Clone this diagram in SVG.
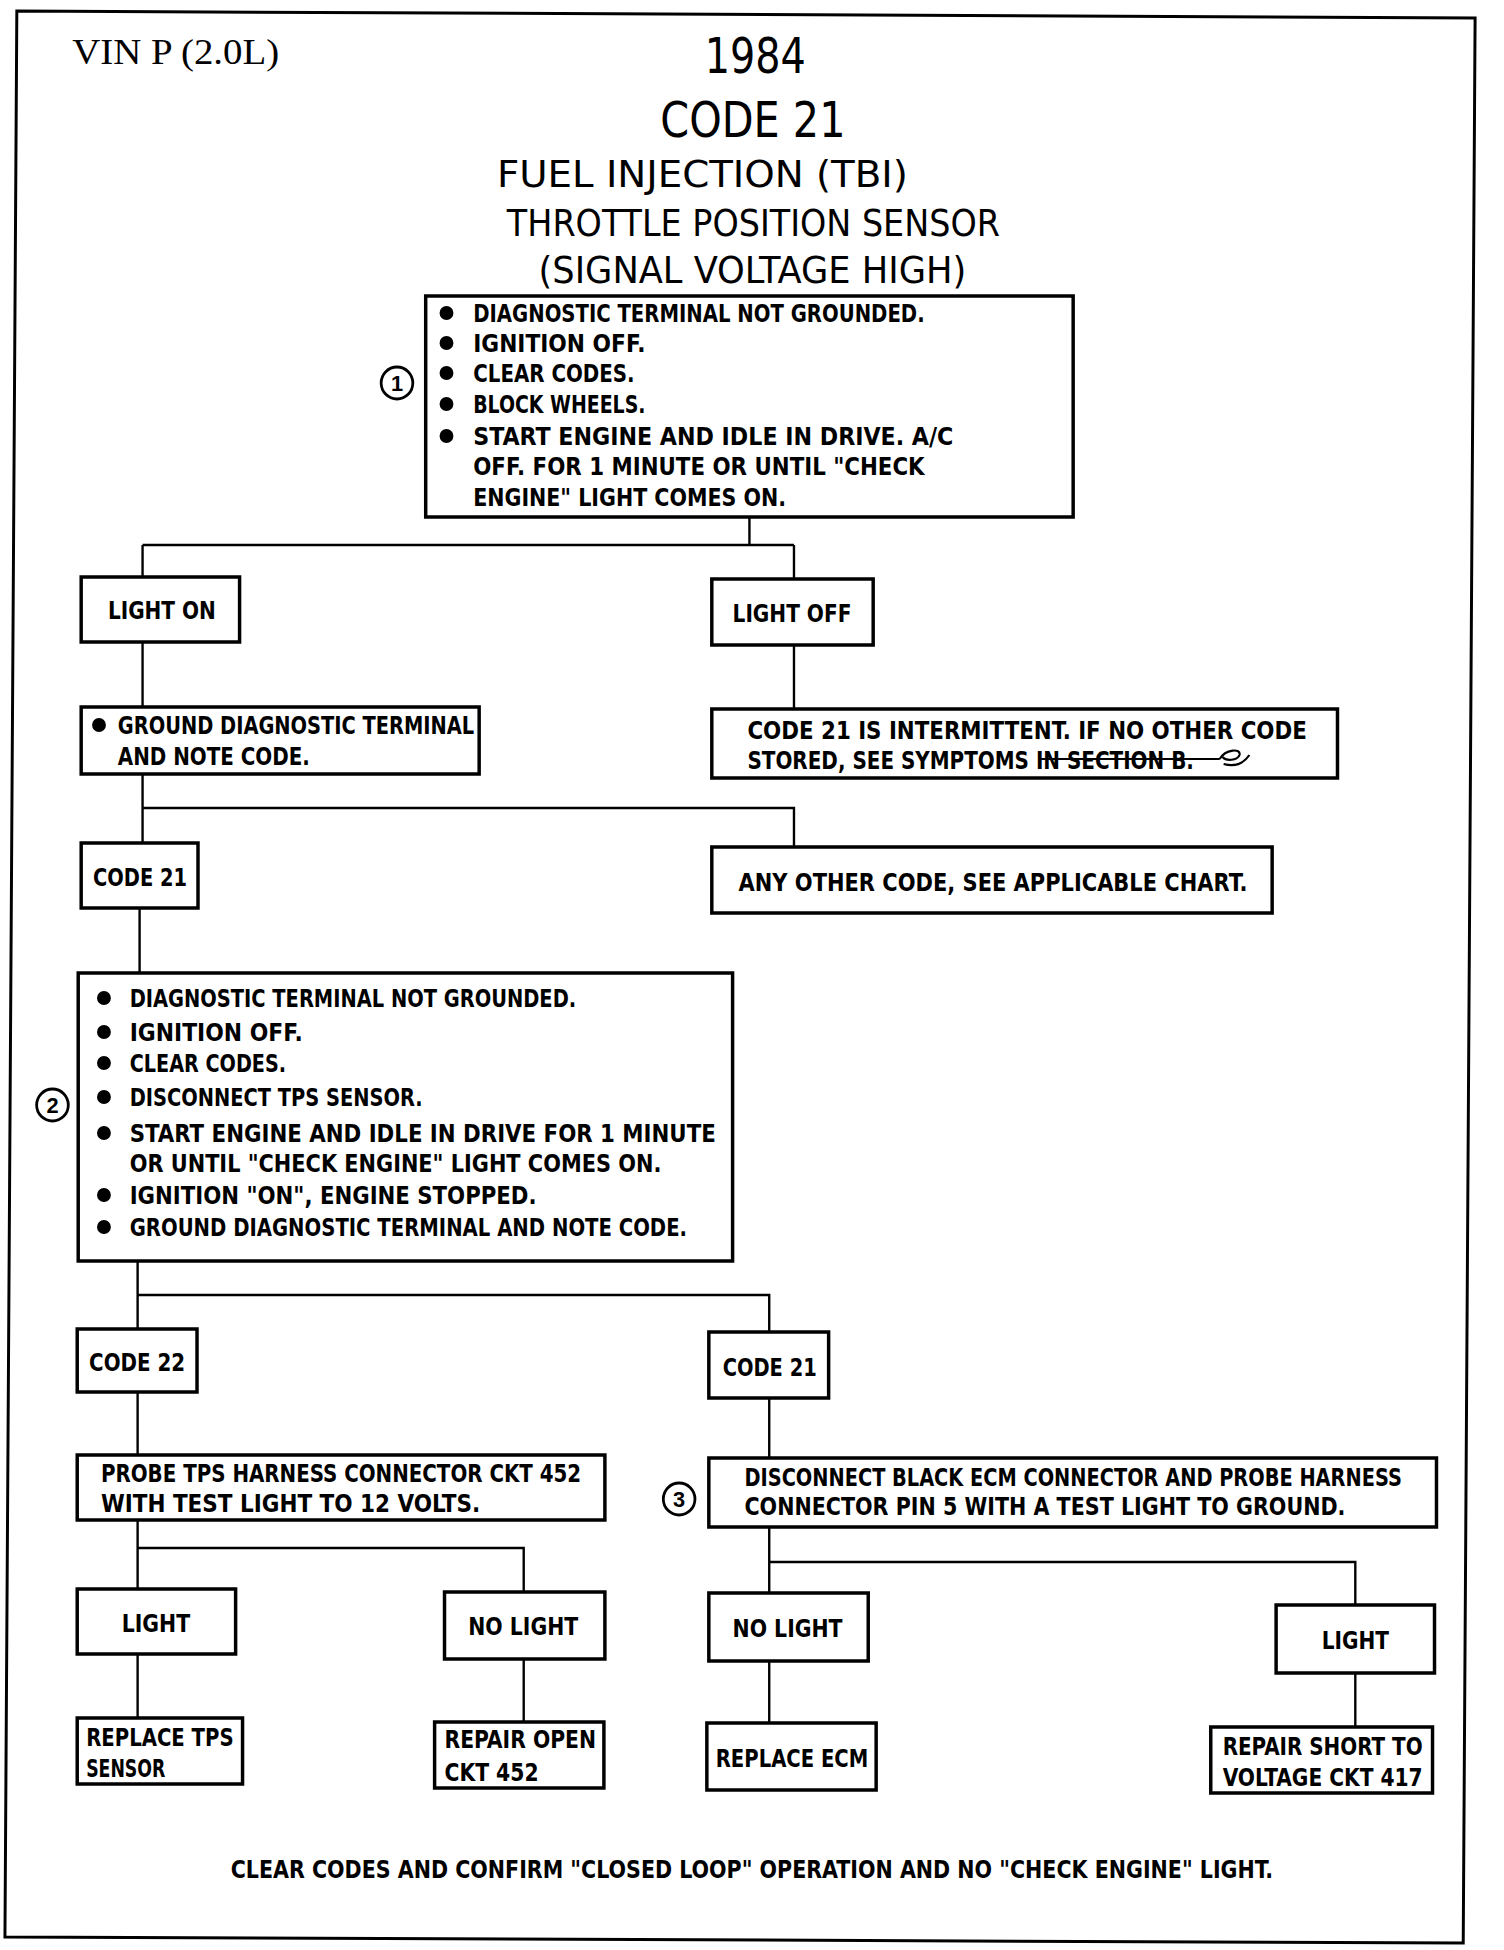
<svg xmlns="http://www.w3.org/2000/svg" width="1504" height="1950" viewBox="0 0 1504 1950">
<style>
.box{fill:#fff;stroke:#000;stroke-width:3.5}
.conn{fill:none;stroke:#000;stroke-width:2.4}
.t{font-family:"Liberation Sans Narrow","DejaVu Sans Condensed","Liberation Sans",Arial,sans-serif;font-size:25px;font-weight:bold;fill:#000}
.h{font-family:"Liberation Sans Narrow","DejaVu Sans Condensed","Liberation Sans",Arial,sans-serif;font-weight:normal;fill:#000}
.serif{font-family:"Liberation Serif","Times New Roman",serif;font-size:35px;fill:#000}
.num{font-family:"Liberation Sans",Arial,sans-serif;font-size:22px;font-weight:bold;fill:#000;text-anchor:middle}
.ring{fill:#fff;stroke:#000;stroke-width:2.8}
</style>
<defs>
<circle id="bul" r="7" fill="#000"/>
</defs>
<rect width="1504" height="1950" fill="#fff"/>
<g transform="matrix(0.99 0 0 1 0 0)">
<polygon points="17,11 1490,18 1478,1943 5,1937" fill="none" stroke="#000" stroke-width="3"/>

<g id="title">
<text class="serif" x="73" y="64" textLength="209" lengthAdjust="spacingAndGlyphs">VIN P (2.0L)</text>
<text class="h" x="712" y="73" font-size="50" textLength="102" lengthAdjust="spacingAndGlyphs">1984</text>
<text class="h" x="667" y="137" font-size="50" textLength="187" lengthAdjust="spacingAndGlyphs">CODE 21</text>
<text class="h" x="502" y="187" font-size="37" textLength="415" lengthAdjust="spacingAndGlyphs">FUEL INJECTION (TBI)</text>
<text class="h" x="512" y="236" font-size="37" textLength="498" lengthAdjust="spacingAndGlyphs">THROTTLE POSITION SENSOR</text>
<text class="h" x="544" y="283" font-size="37" textLength="432" lengthAdjust="spacingAndGlyphs">(SIGNAL VOLTAGE HIGH)</text>
</g>

<g id="connectors">
<path class="conn" d="M757,517 V545 M144,545 H802 M144,545 V577 M802,545 V579"/>
<path class="conn" d="M144,642 V707"/>
<path class="conn" d="M802,645 V709"/>
<path class="conn" d="M144,774 V808 H802 V847 M144,808 V843"/>
<path class="conn" d="M141,908 V973"/>
<path class="conn" d="M139,1261 V1295 H777 V1332 M139,1295 V1329"/>
<path class="conn" d="M139,1392 V1455"/>
<path class="conn" d="M777,1398 V1458"/>
<path class="conn" d="M139,1520 V1548 H529 V1592 M139,1548 V1589"/>
<path class="conn" d="M777,1527 V1593 M777,1562 H1369 V1605"/>
<path class="conn" d="M139,1654 V1718"/>
<path class="conn" d="M529,1659 V1722"/>
<path class="conn" d="M777,1661 V1723"/>
<path class="conn" d="M1369,1673 V1727"/>
</g>

<g id="step1">
<rect class="box" x="430" y="296" width="654" height="221"/>
<use href="#bul" x="451" y="313"/>
<use href="#bul" x="451" y="343"/>
<use href="#bul" x="451" y="373"/>
<use href="#bul" x="451" y="404"/>
<use href="#bul" x="451" y="436"/>
<text class="t" x="478" y="322" textLength="456" lengthAdjust="spacingAndGlyphs">DIAGNOSTIC TERMINAL NOT GROUNDED.</text>
<text class="t" x="478" y="352" textLength="174" lengthAdjust="spacingAndGlyphs">IGNITION OFF.</text>
<text class="t" x="478" y="382" textLength="163" lengthAdjust="spacingAndGlyphs">CLEAR CODES.</text>
<text class="t" x="478" y="413" textLength="174" lengthAdjust="spacingAndGlyphs">BLOCK WHEELS.</text>
<text class="t" x="478" y="445" textLength="485" lengthAdjust="spacingAndGlyphs">START ENGINE AND IDLE IN DRIVE. A/C</text>
<text class="t" x="478" y="475" textLength="456" lengthAdjust="spacingAndGlyphs">OFF. FOR 1 MINUTE OR UNTIL "CHECK</text>
<text class="t" x="478" y="506" textLength="316" lengthAdjust="spacingAndGlyphs">ENGINE" LIGHT COMES ON.</text>
<circle class="ring" cx="401" cy="383" r="16"/>
<text class="num" x="401" y="391">1</text>
</g>

<g id="light-on">
<rect class="box" x="82" y="577" width="160" height="65"/>
<text class="t" x="109" y="619" textLength="109" lengthAdjust="spacingAndGlyphs">LIGHT ON</text>
</g>

<g id="light-off">
<rect class="box" x="719" y="579" width="163" height="66"/>
<text class="t" x="740" y="622" textLength="120" lengthAdjust="spacingAndGlyphs">LIGHT OFF</text>
</g>

<g id="ground">
<rect class="box" x="82" y="707" width="402" height="67"/>
<use href="#bul" x="100" y="725"/>
<text class="t" x="119" y="734" textLength="360" lengthAdjust="spacingAndGlyphs">GROUND DIAGNOSTIC TERMINAL</text>
<text class="t" x="119" y="765" textLength="194" lengthAdjust="spacingAndGlyphs">AND NOTE CODE.</text>
</g>

<g id="intermittent">
<rect class="box" x="719" y="709" width="632" height="69"/>
<text class="t" x="755" y="739" textLength="565" lengthAdjust="spacingAndGlyphs">CODE 21 IS INTERMITTENT. IF NO OTHER CODE</text>
<text class="t" x="755" y="769" textLength="451" lengthAdjust="spacingAndGlyphs">STORED, SEE SYMPTOMS IN SECTION B.</text>
<path d="M1050,759 H1232 M1232,759 C1238,749 1254,748 1252,755 C1250,761 1238,761 1235,757 M1236,764 C1247,767 1256,764 1262,755" fill="none" stroke="#000" stroke-width="2.2"/>
</g>

<g id="code21a">
<rect class="box" x="82" y="843" width="118" height="65"/>
<text class="t" x="94" y="886" textLength="95" lengthAdjust="spacingAndGlyphs">CODE 21</text>
</g>

<g id="any-other">
<rect class="box" x="719" y="847" width="566" height="66"/>
<text class="t" x="746" y="891" textLength="514" lengthAdjust="spacingAndGlyphs">ANY OTHER CODE, SEE APPLICABLE CHART.</text>
</g>

<g id="step2">
<rect class="box" x="79" y="973" width="661" height="288"/>
<use href="#bul" x="105" y="998"/>
<use href="#bul" x="105" y="1032"/>
<use href="#bul" x="105" y="1063"/>
<use href="#bul" x="105" y="1097"/>
<use href="#bul" x="105" y="1133"/>
<use href="#bul" x="105" y="1195"/>
<use href="#bul" x="105" y="1227"/>
<text class="t" x="131" y="1007" textLength="451" lengthAdjust="spacingAndGlyphs">DIAGNOSTIC TERMINAL NOT GROUNDED.</text>
<text class="t" x="131" y="1041" textLength="175" lengthAdjust="spacingAndGlyphs">IGNITION OFF.</text>
<text class="t" x="131" y="1072" textLength="158" lengthAdjust="spacingAndGlyphs">CLEAR CODES.</text>
<text class="t" x="131" y="1106" textLength="296" lengthAdjust="spacingAndGlyphs">DISCONNECT TPS SENSOR.</text>
<text class="t" x="131" y="1142" textLength="592" lengthAdjust="spacingAndGlyphs">START ENGINE AND IDLE IN DRIVE FOR 1 MINUTE</text>
<text class="t" x="131" y="1172" textLength="537" lengthAdjust="spacingAndGlyphs">OR UNTIL "CHECK ENGINE" LIGHT COMES ON.</text>
<text class="t" x="131" y="1204" textLength="411" lengthAdjust="spacingAndGlyphs">IGNITION "ON", ENGINE STOPPED.</text>
<text class="t" x="131" y="1236" textLength="563" lengthAdjust="spacingAndGlyphs">GROUND DIAGNOSTIC TERMINAL AND NOTE CODE.</text>
<circle class="ring" cx="53" cy="1105" r="16"/>
<text class="num" x="53" y="1113">2</text>
</g>

<g id="code22">
<rect class="box" x="78" y="1329" width="121" height="63"/>
<text class="t" x="90" y="1371" textLength="97" lengthAdjust="spacingAndGlyphs">CODE 22</text>
</g>

<g id="code21b">
<rect class="box" x="716" y="1332" width="121" height="66"/>
<text class="t" x="730" y="1376" textLength="95" lengthAdjust="spacingAndGlyphs">CODE 21</text>
</g>

<g id="probe">
<rect class="box" x="78" y="1455" width="533" height="65"/>
<text class="t" x="102" y="1482" textLength="485" lengthAdjust="spacingAndGlyphs">PROBE TPS HARNESS CONNECTOR CKT 452</text>
<text class="t" x="102" y="1512" textLength="383" lengthAdjust="spacingAndGlyphs">WITH TEST LIGHT TO 12 VOLTS.</text>
</g>

<g id="disconnect">
<rect class="box" x="716" y="1458" width="735" height="69"/>
<text class="t" x="752" y="1486" textLength="664" lengthAdjust="spacingAndGlyphs">DISCONNECT BLACK ECM CONNECTOR AND PROBE HARNESS</text>
<text class="t" x="752" y="1515" textLength="607" lengthAdjust="spacingAndGlyphs">CONNECTOR PIN 5 WITH A TEST LIGHT TO GROUND.</text>
<circle class="ring" cx="686" cy="1499" r="16"/>
<text class="num" x="686" y="1507">3</text>
</g>

<g id="light-left">
<rect class="box" x="78" y="1589" width="160" height="65"/>
<text class="t" x="123" y="1632" textLength="69" lengthAdjust="spacingAndGlyphs">LIGHT</text>
</g>

<g id="no-light-left">
<rect class="box" x="449" y="1592" width="162" height="67"/>
<text class="t" x="473" y="1635" textLength="111" lengthAdjust="spacingAndGlyphs">NO LIGHT</text>
</g>

<g id="no-light-right">
<rect class="box" x="716" y="1593" width="161" height="68"/>
<text class="t" x="740" y="1637" textLength="111" lengthAdjust="spacingAndGlyphs">NO LIGHT</text>
</g>

<g id="light-right">
<rect class="box" x="1289" y="1605" width="160" height="68"/>
<text class="t" x="1335" y="1649" textLength="68" lengthAdjust="spacingAndGlyphs">LIGHT</text>
</g>

<g id="replace-tps">
<rect class="box" x="78" y="1718" width="167" height="66"/>
<text class="t" x="87" y="1746" textLength="149" lengthAdjust="spacingAndGlyphs">REPLACE TPS</text>
<text class="t" x="87" y="1777" textLength="80" lengthAdjust="spacingAndGlyphs">SENSOR</text>
</g>

<g id="repair-open">
<rect class="box" x="439" y="1722" width="171" height="66"/>
<text class="t" x="449" y="1748" textLength="153" lengthAdjust="spacingAndGlyphs">REPAIR OPEN</text>
<text class="t" x="449" y="1781" textLength="95" lengthAdjust="spacingAndGlyphs">CKT 452</text>
</g>

<g id="replace-ecm">
<rect class="box" x="714" y="1723" width="171" height="67"/>
<text class="t" x="723" y="1767" textLength="154" lengthAdjust="spacingAndGlyphs">REPLACE ECM</text>
</g>

<g id="repair-short">
<rect class="box" x="1223" y="1727" width="224" height="66"/>
<text class="t" x="1235" y="1755" textLength="202" lengthAdjust="spacingAndGlyphs">REPAIR SHORT TO</text>
<text class="t" x="1235" y="1786" textLength="202" lengthAdjust="spacingAndGlyphs">VOLTAGE CKT 417</text>
</g>

<g id="footer">
<text class="t" x="233" y="1878" textLength="1053" lengthAdjust="spacingAndGlyphs">CLEAR CODES AND CONFIRM "CLOSED LOOP" OPERATION AND NO "CHECK ENGINE" LIGHT.</text>
</g>
</g>
</svg>
